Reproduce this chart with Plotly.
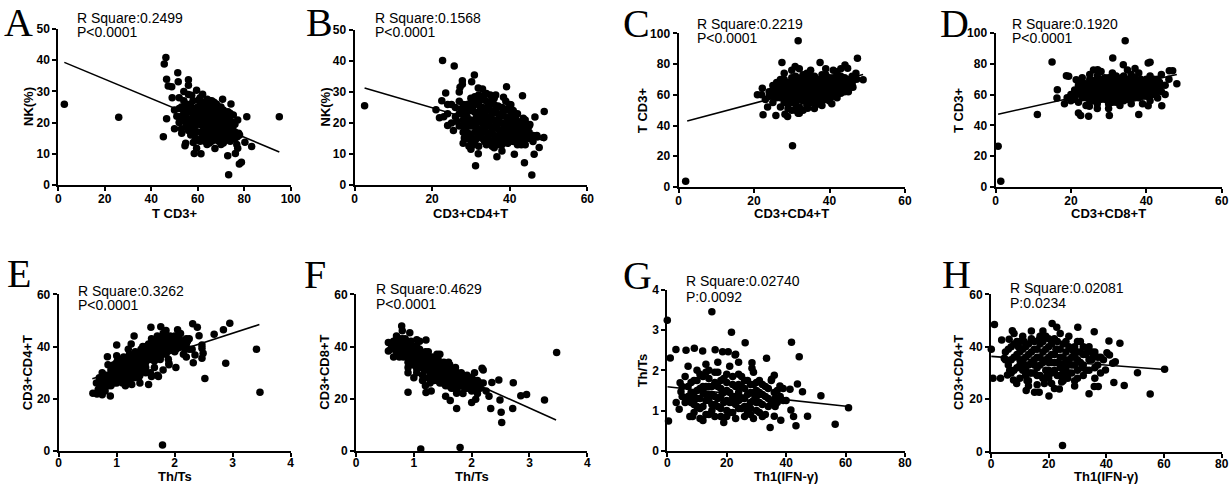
import plotly.graph_objects as go

W, H = 1231, 491

# ---------------- data ----------------
a_pts = [(2.6,25.9),(26,21.7),(95.1,21.9),(46.3,40.9),(45.6,38.8),(46.6,33.9),(47.3,31.7),(48.8,31.5),(51.4,36.0),
         (51.6,33.1),(56,33.7),(56,32),(45.2,15.5),(46.6,21.2),(53.1,16.6),(54.8,13.4),(54.5,12.6),(58.1,13.6),
         (58.5,10.1),(59.5,11.8),(61.4,10),(67.4,11.7),(72.9,9.4),(73.3,3.3),(74.3,26),(73.9,23),(75.3,22.4),
         (77.2,20.8),(81.1,21.9),(77.6,16.6),(76.8,13),(77.2,11.8),(76.2,10.1),(77.9,6.7),(78.8,7.3),(80.3,13.7),
         (83.2,12.3),(70.7,27.5),(59.5,30.4),(62.1,29.1),(64.1,27.5),(60.3,27.2),(57.4,28.8),
         (52,28),(53,25),(54,27),(55,22),(56,24),(57,26),(58,21),(58,18),(59,23),(60,25),(60,20),(60,17),(61,28),
         (61,22),(62,19),(62,24),(63,16),(63,21),(63,26),(64,18),(64,23),(65,15),(65,20),(65,25),(66,17),(66,22),
         (67,19),(67,24),(67,14.5),(68,21),(68,16),(69,18),(69,23),(70,15),(70,20),(70,25),(71,17),(71,22),
         (72,14.5),(72,19),(73,16),(73,21),(74,18),(75,15),(75,20),(76,17),(77,15.5),(52,20),(53,18),(54,23),
         (55,19),(56,29),(57,16),(59,15),(61,14),(64,13),(66,27),(68,26),(69,14),(71,13.5),(57,21),(59,19),
         (62,17),(64,15),(66,19),(68,18),(70,17),(72,16.5),(74,15.5),(63,23),(65,22),(67,21),(69,20),(71,19),
         (73,18.5),(60,22.5),(58,24.5),(55,26),(54,30),(50,24),(51,22),(49,28),(50,18),(78,16),
         (56,20.5),(57,23.5),(58,27),(59,17),(59,21.5),(60,14.5),(61,19.5),(61,25.5),(62,21.5),(62,15.5),(63,18.5),
         (63,24.5),(64,20.5),(64,16.5),(65,17.5),(65,23.5),(66,14),(66,20.5),(66,24.5),(67,16.5),(67,22.5),
         (68,19.5),(68,23.5),(68,14.5),(69,16.5),(69,21.5),(70,18.5),(70,22.5),(71,15.5),(71,20.5),(72,17.5),
         (72,21.5),(73,14.5),(73,19.5),(74,16.5),(74,20.5),(75,17.5),(76,15),(62,26.5),(64,25.5),(60,23.5),
         (58,22.5),(57,19),(56,17.5),(55,24),(54,20.5),(53,22),(52,24.5),(65,27),(67,26.5),(69,25),(71,24),
         (73,23.5),(75,18.5),(76,19.5),(63,14),(65,13.5),(70,13),(74,14)]
a_fit_x = [2.6, 95.1]
a_fit_y = [39.3, 10.6]

b_pts = [(2.6,25.6),(22.7,40.2),(25.7,38.4),(30.9,35.5),(30.2,33.3),(27.8,33.6),(27.8,32.5),(27.2,31.5),(23.5,29.7),
         (31.9,31.3),(39.2,31.7),(38.4,28.3),(36.4,29),(43.3,28.8),(40.3,25.9),(21,24.3),(21.9,21.7),(22.5,27.2),
         (24,19.2),(25.5,17.6),(28.3,15.2),(30,12.3),(31.9,10.1),(31.2,6.2),(36.7,9.1),(41.2,9.9),(43.8,7.2),
         (45.7,3.2),(46.3,9.9),(47.6,12.1),(48.8,15.3),(48.9,23.7),(46.5,21.9),(45.2,19.5),(47.1,15.5),(42.2,20.3),
         (40.9,24),
         (26,25),(26,22),(27,27),(27,19),(28,24),(28,21),(28,17),(29,26),(29,22),(29,15),(30,28),(30,24),(30,19),
         (30,16),(31,21),(31,26),(31,14),(32,23),(32,18),(32,29),(33,20),(33,25),(33,15),(34,22),(34,17),(34,27),
         (35,19),(35,24),(35,14),(36,21),(36,26),(36,16),(37,18),(37,23),(37,13),(38,20),(38,25),(38,15),(39,17),
         (39,22),(39,27),(40,19),(40,14),(40,24),(41,16),(41,21),(42,18),(42,23),(42,13),(43,15),(43,20),(44,17),
         (44,19),(45,15),(46,16),(24,23),(25,20),(25,26),(27,30),(33,31),(35,29),(36,12),(38,11),(32,12.5),
         (34,13),(44,13),(47,16),(29,19),(31,17),(33,22.5),(35,21),(37,20),(39,19.5),(41,18.5),(43,17.5),(23,22),
         (24,26),(28,13.5),(30,11.5),
         (27,23),(28,19),(28,26),(29,17),(29,24),(30,21),(30,14),(31,19),(31,23.5),(32,15.5),(32,20.5),(32,26),
         (33,17.5),(33,22),(33,27.5),(34,19.5),(34,24.5),(34,15),(35,16.5),(35,22),(35,26.5),(36,18.5),(36,23.5),
         (36,14),(37,15.5),(37,21),(37,25.5),(38,17.5),(38,22.5),(38,13),(39,15),(39,24.5),(40,16.5),(40,21.5),
         (40,26),(41,14),(41,19),(41,23.5),(42,15.5),(42,20.5),(43,18),(43,13),(44,15),(44,21),(45,17),(45,19),
         (46,14),(36,28),(30,26.5),(29,20),(31,28.5),(34,29.5),
         (26.5,20.5),(27.5,24.5),(28.5,18),(28.5,22.5),(29.5,26),(29.5,16.5),(30.5,20),(30.5,24.5),(31.5,15),
         (31.5,18.5),(31.5,22),(31.5,27),(32.5,16.5),(32.5,21.5),(32.5,24.5),(33.5,18.5),(33.5,23.5),(33.5,14),
         (34.5,20.5),(34.5,25.5),(34.5,16),(35.5,18),(35.5,23),(35.5,27.5),(36.5,15),(36.5,19.5),(36.5,24.5),
         (37.5,17),(37.5,22),(37.5,14),(38.5,19),(38.5,24),(38.5,16),(39.5,21),(39.5,13.5),(39.5,18),(40.5,15.5),
         (40.5,20),(40.5,23),(41.5,17),(41.5,22),(42.5,14.5),(42.5,19),(43.5,16),(43.5,21.5),(44.5,18),(30.5,13),
         (29.5,12.5),(35.5,12.5),(33.5,29)]
b_fit_x = [2.6, 49.0]
b_fit_y = [31.3, 14.3]

c_pts = [(1.9,3.7),(30.2,26.8),(31.7,95.2),(47.4,83.8),(48.9,69.7),(47.2,70.1),(46.2,64.9),(44.5,63.2),(40.6,54.1),
         (27.4,81),(37.5,81),(44.1,79.4),(44.8,77.3),(30.9,78.4),(22.4,47),(25.8,46.5),(28.2,47.4),(28.9,45.9),
         (31.7,48),(20.9,60),(22.2,64.3),(23.6,52),(34.2,51.3),
         (23,57),(24,62),(25,55),(25,60),(26,64),(26,58),(27,52),(27,61),(27,67),(28,55),(28,63),(28,70),(29,58),
         (29,65),(29,51),(30,61),(30,68),(30,55),(31,63),(31,72),(31,58),(32,52),(32,66),(32,60),(33,70),(33,63),
         (33,56),(34,59),(34,67),(34,74),(35,62),(35,55),(35,69),(36,65),(36,58),(36,72),(37,61),(37,67),(37,54),
         (38,70),(38,63),(38,57),(39,66),(39,60),(39,73),(40,68),(40,62),(40,56),(41,65),(41,71),(41,59),(42,63),
         (42,69),(42,75),(43,66),(43,61),(43,72),(44,68),(44,62),(45,70),(45,65),(46,67),(46,72),(47,74),(30,50),
         (32,48),(34,53),(36,51),(38,53),(26,68),(28,74),(30,76),(32,77),(35,76),(39,77),(41,76),(43,77),(24,59),
         (22,60),
         (25,63),(26,61),(27,58),(27,64),(28,60),(28,66),(29,62),(29,68),(30,58),(30,64),(30,71),(31,60),(31,66),
         (31,54),(32,63),(32,70),(32,57),(33,60),(33,66),(33,73),(34,62),(34,56),(34,69),(35,65),(35,58),(35,72),
         (36,62),(36,68),(36,55),(37,64),(37,70),(37,58),(38,60),(38,66),(38,73),(39,63),(39,57),(39,69),(40,65),
         (40,71),(40,59),(41,62),(41,68),(42,66),(42,72),(42,58),(43,63),(43,69),(44,65),(44,71),(45,67),(45,62),
         (46,69),(29,55),(31,50),(33,50),(27,70),(25,66),
         (26.5,60),(27.5,63),(28.5,58),(28.5,64.5),(29.5,61),(29.5,67),(30.5,59),(30.5,65),(31.5,62),(31.5,68),
         (32.5,58),(32.5,64),(32.5,71),(33.5,61),(33.5,68),(34.5,64),(34.5,58),(34.5,71),(35.5,61),(35.5,67),
         (36.5,64),(36.5,59),(36.5,70),(37.5,62),(37.5,68),(38.5,65),(38.5,59),(38.5,71),(39.5,62),(39.5,68),
         (40.5,64),(40.5,70),(41.5,61),(41.5,67),(42.5,64),(42.5,70),(43.5,67),(44.5,69),(44.5,64)]
c_fit_x = [2.3, 48.9]
c_fit_y = [43.0, 73.2]

d_pts = [(0.7,26.4),(1.4,3.7),(11.1,47),(15,81.2),(34.4,95),(31.1,83.8),(33.9,79.4),(40.5,80.5),(41,81),(46.1,75.5),
         (47,75.5),(48.1,67.1),(44.1,52.8),(40.5,52.8),(38,47),(30.2,46.5),(24.9,52.4),(22.6,46.5),(22.0,48),
         (24.7,45.9),(16.3,57.8),(16.4,63.2),(18.3,54.1),(18.8,72.3),(19.4,71.9),(21.4,69.7),(27.1,76.2),(43,57.8),
         (20,60),(21,63),(21,57),(22,66),(22,55),(23,61),(23,68),(24,58),(24,64),(24,53),(25,70),(25,61),(25,56),
         (26,66),(26,59),(27,63),(27,72),(27,54),(28,60),(28,67),(29,57),(29,64),(29,71),(30,61),(30,68),(30,54),
         (31,65),(31,58),(31,74),(32,62),(32,69),(32,55),(33,66),(33,59),(34,63),(34,72),(34,56),(35,60),(35,67),
         (36,64),(36,57),(36,73),(37,61),(37,68),(38,65),(38,58),(38,74),(39,62),(39,69),(40,66),(40,59),(41,63),
         (41,72),(41,56),(42,67),(42,60),(43,70),(43,64),(44,62),(44,73),(45,66),(45,60),(46,70),(26,76),(28,75),
         (35,76),(37,77),(33,53),(39,54),(20,56),(19,58),(23,71),
         (22,62),(23,58),(23,65),(24,61),(24,67),(25,58),(25,64),(26,62),(26,69),(26,56),(27,60),(27,66),(28,57),
         (28,63),(28,70),(29,60),(29,67),(30,58),(30,64),(30,71),(31,61),(31,68),(31,55),(32,65),(32,58),(32,72),
         (33,62),(33,69),(33,56),(34,60),(34,66),(35,63),(35,70),(35,57),(36,61),(36,67),(37,64),(37,58),(37,71),
         (38,62),(38,68),(39,65),(39,59),(40,63),(40,70),(41,60),(41,67),(42,64),(42,70),(43,62),(43,67),(44,66),
         (27,51),(30,51),(36,54),(25,73),
         (21.5,60),(22.5,64),(23.5,60),(23.5,66),(24.5,62),(25.5,59),(25.5,66),(26.5,61),(26.5,64),(27.5,58),
         (27.5,68),(28.5,62),(28.5,65),(29.5,59),(29.5,69),(30.5,62),(30.5,66),(31.5,59),(31.5,63),(31.5,70),
         (32.5,60),(32.5,67),(33.5,64),(33.5,58),(33.5,71),(34.5,61),(34.5,68),(35.5,65),(35.5,59),(36.5,62),
         (36.5,69),(37.5,60),(37.5,66),(38.5,63),(38.5,70),(39.5,61),(39.5,67),(40.5,64),(41.5,62),(41.5,69),
         (42.5,65),(43.5,68)]
d_fit_x = [0.7, 48.1]
d_fit_y = [47.3, 73.0]

e_pts = [(3.47,22.5),(1.79,2.3),(3.41,39),(2.95,48.9),(2.84,46.4),(2.68,44.7),(2.88,33.6),(2.52,27.8),(2.31,48.7),
         (2.39,47.4),(2.42,44.1),(2.47,40.6),(2.47,39.3),(2.49,37.4),(2.47,35.5),(2.32,33.8),(2.35,36.8),(2.02,32),
         (2.05,46.4),(1.85,46.1),(1.76,47.6),(1.59,47.4),(1.0,40.6),(0.84,36.1),(0.59,22.1),(0.66,21.8),(0.89,21.1),
         (1.26,25.5),(1.55,25.5),(1.72,28.5),(1.89,35.1),(1.9,33.6),
         (0.65,26),(0.7,28),(0.7,24),(0.75,30),(0.8,27),(0.8,23),(0.85,29),(0.85,25),(0.9,31),(0.9,27),(0.95,33),
         (0.95,28),(1.0,30),(1.0,26),(1.0,34),(1.05,32),(1.05,28),(1.1,35),(1.1,30),(1.1,26),(1.15,33),(1.15,29),
         (1.2,36),(1.2,31),(1.2,27),(1.25,34),(1.25,30),(1.3,37),(1.3,32),(1.3,28),(1.35,35),(1.35,31),(1.4,38),
         (1.4,33),(1.4,29),(1.45,36),(1.45,40),(1.5,34),(1.5,38),(1.5,30),(1.55,37),(1.55,41),(1.6,35),(1.6,39),
         (1.6,43),(1.65,37),(1.65,32),(1.7,40),(1.7,44),(1.75,38),(1.75,35),(1.8,42),(1.8,45),(1.85,40),(1.85,37),
         (1.9,43),(1.9,39),(1.95,41),(2.0,44),(2.0,38),(2.05,42),(2.1,40),(2.1,45),(2.15,37),(2.2,41),(2.25,43),
         (2.3,39),(1.25,41),(1.3,44),(1.0,36.5),(0.85,33),(1.15,25),(1.4,26),(1.6,28.5),(0.75,21.5),(1.2,39),
         (1.8,31),(1.9,33),(2.2,36),(1.7,29),
         (0.7,26),(0.75,25),(0.8,29),(0.85,27),(0.9,25),(0.9,29),(0.95,30),(0.95,26),(1.0,32),(1.0,28),(1.05,30),
         (1.05,34),(1.1,28),(1.1,32),(1.15,31),(1.15,35),(1.2,29),(1.2,33),(1.25,32),(1.25,36),(1.3,30),(1.3,34),
         (1.35,33),(1.35,37),(1.4,31),(1.4,35),(1.45,34),(1.45,38),(1.5,32),(1.5,36),(1.5,40),(1.55,35),(1.55,39),
         (1.6,37),(1.6,41),(1.65,35),(1.65,39),(1.7,38),(1.7,42),(1.75,36),(1.75,40),(1.8,39),(1.8,43),(1.85,38),
         (1.85,42),(1.9,41),(1.95,39),(1.95,43),(2.0,40),(2.05,44),(2.1,42),(2.15,40),(2.2,43),(2.25,39),(1.35,29),
         (1.2,34.5),(1.45,32),(1.65,34.5),
         (0.68,23.5),(0.72,27),(0.78,24.5),(0.82,28),(0.88,26),(0.92,30),(0.98,29),(1.02,31),(1.02,35),(1.08,29),
         (1.08,33),(1.12,31),(1.12,36),(1.18,30),(1.18,34),(1.22,32),(1.22,37),(1.28,31),(1.28,35),(1.32,33),
         (1.32,38),(1.38,32),(1.38,36),(1.42,34),(1.42,39),(1.48,33),(1.48,37),(1.52,35),(1.52,39),(1.58,36),
         (1.58,40),(1.62,38),(1.62,42),(1.68,36),(1.68,41),(1.72,39),(1.72,43),(1.78,37),(1.78,41),(1.82,40),
         (1.82,44),(1.88,39),(1.88,42),(1.92,40),(1.92,44),(1.98,42),(2.02,39),(2.08,43),(2.12,41),(2.18,39),
         (2.22,42),(1.58,30),(1.38,28),(1.12,27)]
e_fit_x = [0.58, 3.46]
e_fit_y = [27.7, 48.4]

f_pts = [(3.47,37.7),(1.12,0.8),(1.8,1.3),(0.9,22.5),(1.21,22.4),(3.26,19.5),(2.95,21.6),(2.85,21.2),(2.71,16.3),
         (2.52,10.9),(2.51,14.8),(2.49,19.5),(2.47,27.2),(2.35,26.2),(2.33,16.3),(2.72,26.1),(2.18,31.7),(2.07,19.8),
         (2.0,18.6),(1.74,16.3),(1.63,19.3),(1.74,22.1),(1.21,42.5),(0.79,47.9),(0.56,41.5),(0.56,38.3),(1.05,42.6),
         (0.93,45.3),
         (0.6,39),(0.65,42),(0.7,44),(0.7,38),(0.75,41),(0.75,36),(0.8,43),(0.8,39),(0.85,37),(0.85,41),(0.9,34),
         (0.9,39),(0.95,36),(0.95,42),(1.0,38),(1.0,33),(1.05,35),(1.05,40),(1.1,32),(1.1,37),(1.15,34),(1.15,29),
         (1.2,36),(1.2,31),(1.25,33),(1.25,28),(1.3,35),(1.3,30),(1.35,32),(1.35,27),(1.4,37),(1.4,29),(1.45,31),
         (1.45,26),(1.5,33),(1.5,28),(1.55,30),(1.55,25),(1.6,32),(1.6,27),(1.65,29),(1.65,24),(1.7,31),(1.7,26),
         (1.75,28),(1.75,23),(1.8,29),(1.8,25),(1.85,27),(1.85,22),(1.9,28),(1.9,24),(1.95,26),(2.0,23),(2.0,28),
         (2.05,25),(2.1,22),(2.1,27),(2.15,24),(2.2,26),(2.25,23),(2.3,21),(0.9,30),(1.0,28),(1.2,25),(1.45,37),
         (1.6,34),(0.65,36),(1.3,23),(1.55,21),(1.1,42),(1.25,38),(0.8,46),(2.05,30),(2.2,31),
         (0.65,40),(0.7,41),(0.75,39),(0.75,43),(0.8,37),(0.8,41),(0.85,39),(0.85,43),(0.9,37),(0.9,41),(0.95,34),
         (0.95,39),(1.0,36),(1.0,40),(1.05,33),(1.05,37),(1.1,35),(1.1,39),(1.15,32),(1.15,36),(1.2,34),(1.2,38),
         (1.25,31),(1.25,35),(1.3,33),(1.3,28),(1.35,30),(1.35,34),(1.4,32),(1.4,27),(1.45,29),(1.45,33),(1.5,31),
         (1.5,26),(1.55,28),(1.55,32),(1.6,30),(1.6,25),(1.65,27),(1.65,31),(1.7,29),(1.7,24),(1.75,26),(1.75,30),
         (1.8,27),(1.85,25),(1.85,29),(1.9,26),(1.95,24),(1.95,28),(2.0,25),(2.05,27),(2.1,24),(2.15,26),(0.9,32),
         (1.05,30),(1.15,27),
         (0.62,40),(0.68,39),(0.72,42),(0.78,38),(0.78,42),(0.82,40),(0.82,36),(0.88,38),(0.88,42),(0.92,36),
         (0.92,40),(0.98,37),(0.98,33),(1.02,35),(1.02,39),(1.08,34),(1.08,38),(1.12,33),(1.12,36),(1.18,31),
         (1.18,35),(1.22,33),(1.22,37),(1.28,30),(1.28,34),(1.32,31),(1.32,36),(1.38,29),(1.38,33),(1.42,30),
         (1.42,35),(1.48,28),(1.48,32),(1.52,29),(1.52,34),(1.58,27),(1.58,31),(1.62,28),(1.62,33),(1.68,26),
         (1.68,30),(1.72,27),(1.72,32),(1.78,25),(1.78,29),(1.82,26),(1.82,30),(1.88,24),(1.88,28),(1.92,25),
         (1.92,29),(1.98,26),(2.02,24),(2.08,26),(2.12,25),(1.28,26),(1.05,31.5)]
f_fit_x = [0.56, 3.46]
f_fit_y = [40.7, 11.9]

g_pts = [(0,3.25),(0.4,0.74),(15,3.46),(21.6,2.95),(26.2,2.69),(41.8,2.7),(44.4,2.34),(33.4,2.3),(1.0,2.31),
         (2.9,2.52),(6.3,2.5),(9.1,2.55),(11.9,2.48),(16.1,2.51),(18.6,2.46),(20.5,2.46),(22.8,2.38),(28.5,2.19),
         (28.5,2.05),(4.3,1.69),(4.6,1.47),(4.0,1.03),(7.6,0.85),(8.5,0.85),(43.8,1.66),(45.5,1.47),(41.3,1.53),
         (37.9,1.61),(41.6,1.01),(42.5,0.85),(43.3,0.62),(47.2,0.86),(51.7,1.37),(56.5,0.66),(61,1.07),(34.6,0.58),
         (38.2,0.76),(36.3,1.3),(36.3,1.1),(36,0.86),(36,1.88),(35.1,1.78),
         (3,1.2),(5,1.35),(6,1.85),(7,1.6),(7,2.1),(8,1.2),(8,1.45),(9,0.95),(9,1.75),(10,1.3),(10,2.0),(11,1.05),
         (11,1.55),(12,0.75),(12,1.85),(13,1.25),(13,1.6),(14,0.9),(14,2.0),(15,1.4),(15,1.15),(16,1.7),(16,0.85),
         (17,1.3),(17,1.95),(18,1.05),(18,1.55),(19,0.7),(19,1.8),(20,1.25),(20,1.5),(21,0.95),(21,2.1),(22,1.35),
         (22,1.65),(23,0.8),(23,1.15),(24,1.45),(24,1.9),(25,1.05),(25,1.6),(26,0.85),(26,1.3),(27,1.75),(27,1.1),
         (28,1.45),(28,0.9),(29,1.25),(29,1.65),(30,1.0),(30,1.5),(31,1.75),(31,1.2),(32,0.85),(32,1.4),(33,1.6),
         (34,1.1),(34,1.3),(35,1.75),(36,1.45),(37,1.2),(38,1.35),(39,1.55),(40,1.25),(10,1.5),(12,1.45),(14,1.6),
         (16,1.15),(18,1.35),(20,1.0),(22,1.2),(24,1.25),(26,1.55),(28,1.2),(30,1.35),(20,1.9),(17,2.2),(24,2.2),
         (13,2.15),(29,1.95),(23,2.4),
         (5,1.6),(6,1.2),(7,1.35),(8,1.7),(9,1.35),(10,1.1),(10,1.75),(11,1.3),(11,1.9),(12,1.1),(12,1.6),(13,0.9),
         (13,1.4),(14,1.25),(14,1.8),(15,1.0),(15,1.6),(16,1.35),(16,1.95),(17,1.1),(17,1.6),(18,0.85),(18,1.75),
         (19,1.2),(19,1.45),(20,0.85),(20,1.7),(21,1.2),(21,1.45),(22,0.95),(22,1.85),(23,1.35),(23,1.6),(24,1.05),
         (24,1.65),(25,1.3),(25,1.85),(26,1.1),(26,1.75),(27,0.95),(27,1.4),(28,1.05),(28,1.65),(29,0.8),(29,1.45),
         (30,1.2),(30,1.7),(31,0.95),(31,1.45),(32,1.15),(32,1.65),(33,1.35),(33,0.9),(34,1.55),(35,1.2),(37,1.5),
         (39,1.25),(13,1.95),(11,0.8),(9,1.15)]
g_fit_x = [0.0, 61.0]
g_fit_y = [1.59, 1.10]

h_pts = [(0.1,39),(1.2,48.5),(0.7,28),(3.3,28),(3.7,42.6),(4.6,35.6),(6.3,42.8),(7.4,46.1),(5.7,29.2),(7.8,27.3),
         (8.9,26),(12.2,23.3),(15.1,22.6),(16.7,22.6),(20.1,21.2),(23.7,23.9),(21.2,48.9),(22.8,47.4),(30.1,47.4),
         (35.8,45.7),(34,22),(35.8,24.8),(39.7,31.1),(40.2,37.7),(40.9,42.2),(41.1,36.8),(42.6,26.3),(44.7,41.3),
         (46.2,25.2),(50.8,30.1),(55.2,21.9),(60.2,31.4),(24.8,2.3),(26.6,28),(43.1,34.3),(42.2,33.7),(37.2,24.8),
         (5,38),(6,33),(7,40),(7,30),(8,36),(9,42),(9,32),(10,38),(10,28),(11,35),(11,44),(12,31),(12,40),(13,37),
         (13,27),(14,34),(14,43),(15,39),(15,30),(16,36),(16,25.5),(17,33),(17,41),(18,38),(18,28),(19,35),(19,44),
         (20,31),(20,40),(21,37),(21,26),(22,34),(22,43),(23,39),(23,29),(24,36),(24,32),(25,41),(25,27),(26,34),
         (26,38),(27,30),(27,44),(28,36),(28,33),(29,40),(29,27),(30,35),(30,31),(31,38),(31,42),(32,33),(32,29),
         (33,37),(34,40),(34,31),(35,35),(36,28),(36,38),(37,33),(38,36),(38,30),(39,35),(8,45),(14,46),(18,46),
         (24,45),(12,29),(16,29),(20,28),(26,29),(10,33),(15,35),(20,36),(25,33),(30,38),(13,25),(22,24),(29,25),
         (5,35),(6,39),(7,35),(8,31),(8,41),(9,37),(10,35),(10,42),(11,31),(11,39),(12,36),(12,33),(13,41),(13,33),
         (14,30),(14,38),(15,33),(15,42),(16,32),(16,39),(17,36),(17,29),(18,34),(18,42),(19,31),(19,39),(20,34),
         (20,43),(21,30),(21,41),(22,37),(22,31),(23,34),(23,42),(24,29),(24,39),(25,36),(25,30),(26,32),(26,42),
         (27,35),(27,40),(28,30),(28,39),(29,33),(29,36),(30,28),(30,42),(31,34),(32,37),(32,40),(33,31),(34,35),
         (35,38),(36,32),(37,36),(21,34),(17,44),
         (6.5,31),(9.5,40),(11.5,42),(13.5,30),(16.5,42.5),(19.5,29),(22.5,39),(25.5,32),(28.5,38.5),(31.5,32),
         (33.5,39),(35.5,36.5),(12.5,27),(18.5,26),(24.5,26.5)]
h_fit_x = [0.1, 60.2]
h_fit_y = [36.3, 31.3]

letters = ["A", "B", "C", "D", "E", "F", "G", "H"]
r_square = ["R Square:0.2499", "R Square:0.1568", "R Square:0.2219", "R Square:0.1920",
            "R Square:0.3262", "R Square:0.4629", "R Square:0.02740", "R Square:0.02081"]
p_text = ["P<0.0001", "P<0.0001", "P<0.0001", "P<0.0001", "P<0.0001", "P<0.0001", "P:0.0092", "P:0.0234"]
x_titles = ["T CD3+", "CD3+CD4+T", "CD3+CD4+T", "CD3+CD8+T", "Th/Ts", "Th/Ts", "Th1(IFN-γ)", "Th1(IFN-γ)"]
y_titles = ["NK(%)", "NK(%)", "T CD3+", "T CD3+", "CD3+CD4+T", "CD3+CD8+T", "Th/Ts", "CD3+CD4+T"]
x_ranges = [[0, 100], [0, 60], [0, 60], [0, 60], [0, 4], [0, 4], [0, 80], [0, 80]]
y_ranges = [[0, 50], [0, 50], [0, 100], [0, 100], [0, 60], [0, 60], [0, 4], [0, 60]]
x_dticks = [20, 20, 20, 20, 1, 1, 20, 20]
y_dticks = [10, 10, 20, 20, 20, 20, 1, 20]

points = [a_pts, b_pts, c_pts, d_pts, e_pts, f_pts, g_pts, h_pts]
fits = [(a_fit_x, a_fit_y), (b_fit_x, b_fit_y), (c_fit_x, c_fit_y), (d_fit_x, d_fit_y),
        (e_fit_x, e_fit_y), (f_fit_x, f_fit_y), (g_fit_x, g_fit_y), (h_fit_x, h_fit_y)]

# ---------------- layout (pixel geometry) ----------------
x_dom_px = [(58.3, 290.7), (354.5, 587.3), (678.5, 905), (995.5, 1221.7),
            (58.7, 290.7), (356, 587.3), (667.3, 905), (991, 1221.7)]
y_dom_px = [(29, 185), (30, 185), (33.3, 187), (33, 187),
            (294.3, 451), (294.3, 451), (290, 450.7), (294.3, 451.5)]
letter_pos = [(18.5, 22), (319, 22), (636, 23.5), (954, 23.5), (19, 273.5), (315, 274), (637.5, 275.5), (956, 274.5)]
text_pos = [(75, 18, 32), (372.7, 18, 32), (695, 24, 38), (1010, 23.5, 38.5),
            (76, 290.5, 304.5), (374, 289, 304), (684, 280.5, 297), (1008, 288, 303)]
ytitle_x = [28, 325, 642, 958, 27.5, 325, 642, 959]
xtitle_y = [213, 213, 213, 213, 476, 476, 476, 476]
x_standoff = [-2, -2, -2, -2, -4, -4, -4, -4]

SANS = "Arial, Liberation Sans, sans-serif"
SERIF = "Times New Roman, Liberation Serif, serif"


def fx(p):
    return p / W


def fy(p):
    return 1 - p / H


fig = go.Figure()
annotations = []
layout = {}

for i in range(8):
    n = "" if i == 0 else str(i + 1)
    xs = [p[0] for p in points[i]]
    ys = [p[1] for p in points[i]]
    fig.add_trace(go.Scatter(x=xs, y=ys, mode="markers", xaxis="x" + n, yaxis="y" + n,
                             marker=dict(size=7.5, color="black", line=dict(width=0)),
                             cliponaxis=False, showlegend=False, hoverinfo="skip"))
    fig.add_trace(go.Scatter(x=fits[i][0], y=fits[i][1], mode="lines", xaxis="x" + n, yaxis="y" + n,
                             line=dict(color="black", width=1.6), cliponaxis=False,
                             showlegend=False, hoverinfo="skip"))
    common = dict(showline=True, linecolor="black", linewidth=2, ticks="outside", ticklen=4,
                  tickwidth=2, tickcolor="black", showgrid=False, zeroline=False, tick0=0,
                  tickfont=dict(family=SANS, size=12, color="black", weight="bold"),
                  fixedrange=True, automargin=False)
    layout["xaxis" + n] = dict(common, domain=[fx(x_dom_px[i][0]), fx(x_dom_px[i][1])],
                               range=x_ranges[i], dtick=x_dticks[i], anchor="y" + n,
                               ticklabelstandoff=x_standoff[i])
    layout["yaxis" + n] = dict(common, domain=[fy(y_dom_px[i][1]), fy(y_dom_px[i][0])],
                               range=y_ranges[i], dtick=y_dticks[i], anchor="x" + n)

    lx, ly = letter_pos[i]
    annotations.append(dict(text=letters[i], x=fx(lx), y=fy(ly), xref="paper", yref="paper",
                            xanchor="center", yanchor="middle", showarrow=False,
                            font=dict(family=SERIF, size=40, color="black")))
    tx, t1, t2 = text_pos[i]
    annotations.append(dict(text=r_square[i], x=fx(tx), y=fy(t1), xref="paper", yref="paper",
                            xanchor="left", yanchor="middle", showarrow=False,
                            font=dict(family=SANS, size=14, color="black")))
    annotations.append(dict(text=p_text[i], x=fx(tx), y=fy(t2), xref="paper", yref="paper",
                            xanchor="left", yanchor="middle", showarrow=False,
                            font=dict(family=SANS, size=14, color="black")))
    cx = (x_dom_px[i][0] + x_dom_px[i][1]) / 2
    annotations.append(dict(text=x_titles[i], x=fx(cx), y=fy(xtitle_y[i]), xref="paper", yref="paper",
                            xanchor="center", yanchor="middle", showarrow=False, borderpad=0,
                            font=dict(family=SANS, size=13, color="black", weight="bold")))
    cy = (y_dom_px[i][0] + y_dom_px[i][1]) / 2
    annotations.append(dict(text=y_titles[i], x=fx(ytitle_x[i]), y=fy(cy), xref="paper", yref="paper",
                            xanchor="center", yanchor="middle", textangle=-90, showarrow=False,
                            font=dict(family=SANS, size=13, color="black", weight="bold")))

fig.update_layout(**layout)
fig.update_layout(width=W, height=H, margin=dict(l=0, r=0, t=0, b=0),
                  paper_bgcolor="white", plot_bgcolor="white",
                  annotations=annotations, showlegend=False)

fig.write_html("out.html", config={"displayModeBar": False, "staticPlot": True},
               post_script="document.body.style.margin='0px';document.body.style.overflow='hidden';")
